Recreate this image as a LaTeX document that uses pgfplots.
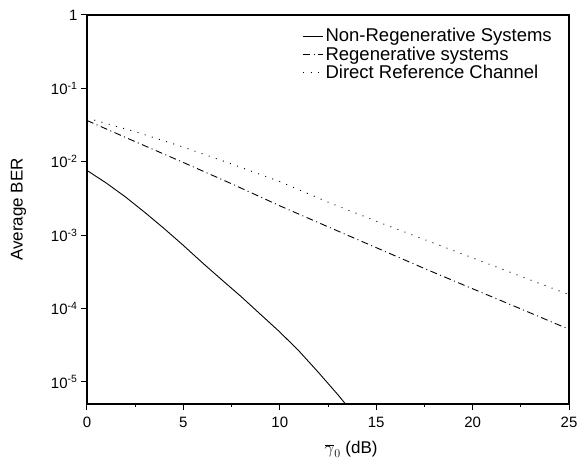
\documentclass[border=0pt]{standalone}
\usepackage{fontspec}
\setmainfont{Liberation Sans}
\usepackage{pgfplots}
\pgfplotsset{compat=1.18}
\begin{document}
\begin{tikzpicture}
\begin{axis}[
  name=ax,
  scale only axis,
  width=482pt, height=389pt,
  xmin=0, xmax=25,
  ymode=log, ymin=5e-6, ymax=1,
  xtick={0,5,10,15,20,25},
  minor x tick num=1,
  ytick={1,0.1,0.01,0.001,0.0001,0.00001},
  yticklabels={1,10\textsuperscript{-1},10\textsuperscript{-2},10\textsuperscript{-3},10\textsuperscript{-4},10\textsuperscript{-5}},
  tick align=outside,
  xtick pos=bottom, ytick pos=left,
  major tick length=6pt, minor tick length=3pt,
  tick style={line width=1pt, black},
  axis line style={line width=1.2pt},
  /pgf/number format/assume math mode=true,
  ticklabel style={font=\fontsize{15}{17}\selectfont},
  xticklabel style={yshift=-4pt},
  xlabel={$\overline{\gamma}_{0}$ (dB)},
  ylabel={Average BER},
  label style={font=\fontsize{17}{19}\selectfont},
  xlabel style={at={(axis description cs:0.548,0)}, anchor=north, yshift=-34pt},
  ylabel style={yshift=18pt},
  legend style={draw=none, fill=none, at={(0.975,0.972)}, anchor=north east,
    font=\fontsize{18.5}{21}\selectfont, row sep=2.5pt,
    nodes={inner ysep=0.5pt},
    /tikz/every even column/.append style={column sep=2pt}},
  legend cell align=left,
  legend image code/.code={\draw[#1] (0pt,0pt) -- (20pt,0pt);},
]
\addplot[black, line width=0.9pt] coordinates {
(0,7.62e-3) (1,5.13e-3) (2,3.31e-3) (3,2.04e-3) (4,1.23e-3) (5,7.24e-4)
(6,4.17e-4) (7,2.45e-4) (8,1.45e-4) (9,8.32e-5) (10,4.79e-5) (11,2.63e-5)
(12,1.35e-5) (13,6.76e-6) (13.5,4.68e-6)
};
\addlegendentry{Non-Regenerative Systems}
\addplot[black, line width=0.9pt, dash pattern=on 7pt off 3.5pt on 1pt off 3.5pt] coordinates {
(0,3.65e-2) (2.5,1.88e-2) (5,9.77e-3) (7.5,5.01e-3) (10,2.51e-3) (12.5,1.30e-3)
(15,6.76e-4) (17.5,3.51e-4) (20,1.86e-4) (22.5,9.89e-5) (25,5.21e-5)
};
\addlegendentry{Regenerative systems}
\addplot[black, line width=0.9pt, dash pattern=on 1pt off 6.5pt] coordinates {
(0,3.94e-2) (2.5,2.57e-2) (5,1.585e-2) (7.5,9.33e-3) (10,5.37e-3) (12.5,2.82e-3)
(15,1.55e-3) (17.5,8.71e-4) (20,4.90e-4) (22.5,2.75e-4) (25,1.55e-4)
};
\addlegendentry{Direct Reference Channel}
\end{axis}
\pgfresetboundingbox
\useasboundingbox ([xshift=-87pt,yshift=-66pt]ax.south west) rectangle ([xshift=12pt,yshift=15pt]ax.north east);
\end{tikzpicture}
\end{document}
